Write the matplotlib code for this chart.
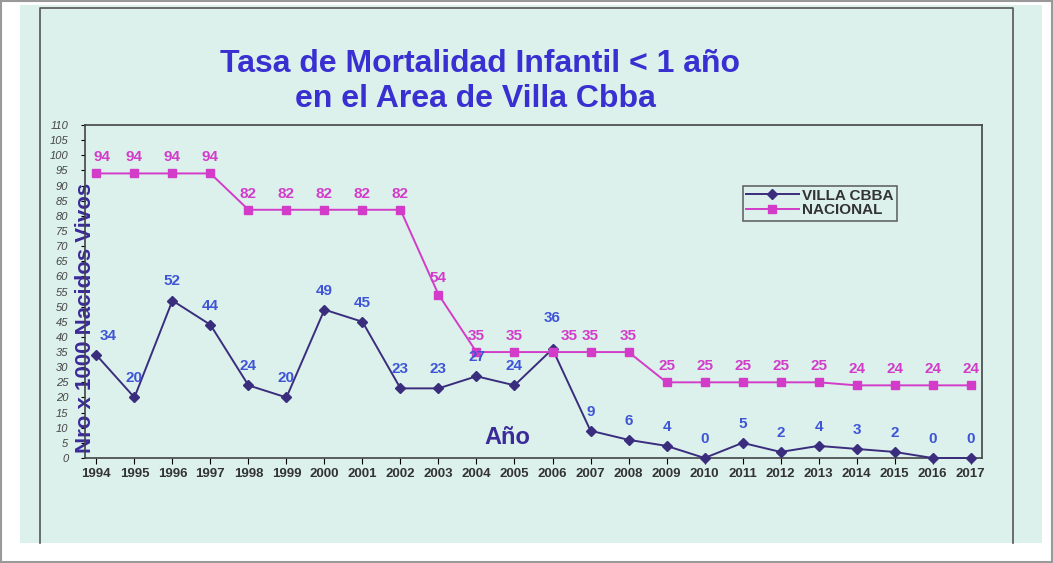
import matplotlib.pyplot as plt
from matplotlib.patches import Rectangle
from matplotlib.lines import Line2D

plt.rcParams['font.family'] = ['Liberation Sans', 'DejaVu Sans']

# data (data labels)
years = ['1994', '1995', '1996', '1997', '1998', '1999', '2000', '2001', '2002', '2003', '2004', '2005',
         '2006', '2007', '2008', '2009', '2010', '2011', '2012', '2013', '2014', '2015', '2016', '2017']
villa = [34, 20, 52, 44, 24, 20, 49, 45, 23, 23, 27, 24, 36, 9, 6, 4, 0, 5, 2, 4, 3, 2, 0, 0]
nacional = [94, 94, 94, 94, 82, 82, 82, 82, 82, 54, 35, 35, 35, 35, 35, 25, 25, 25, 25, 25, 24, 24, 24, 24]
yticks = list(range(0, 111, 5))

bg = '#dcf1ec'
c_villa = '#3a2d7e'
c_villa_lbl = '#3f55d6'
c_nac = '#d23cc8'
c_title = '#3a2fd0'

fig = plt.figure(figsize=(10.53, 5.63), dpi=100)
fig.patch.set_facecolor('white')
W, H = 1053, 563
# projected screen area and outer chart frame
fig.patches.append(Rectangle((20 / W, 1 - 543 / H), 1022 / W, 538 / H, transform=fig.transFigure,
                             facecolor=bg, edgecolor='none', zorder=-2))
fig.lines.append(Line2D([40 / W, 40 / W, 1013 / W, 1013 / W], [1 - 543 / H, 1 - 8 / H, 1 - 8 / H, 1 - 543 / H],
                        transform=fig.transFigure, color='#555555', lw=1.2, zorder=-1))
fig.patches.append(Rectangle((1 / W, 1 / H), 1 - 2 / W, 1 - 2 / H, transform=fig.transFigure,
                             facecolor='none', edgecolor='#999999', lw=1.5, zorder=-1))

ax = fig.add_axes([85 / W, 1 - 458 / H, 897 / W, 333 / H])
ax.set_facecolor(bg)
x = range(len(years))

ax.plot(x, villa, color=c_villa, marker='D', markersize=5, lw=1.4, label='VILLA CBBA', clip_on=False, zorder=3)
ax.plot(x, nacional, color=c_nac, marker='s', markersize=6, lw=1.4, label='NACIONAL', clip_on=False, zorder=3)

for i in x:
    # first labels pushed off the axis title, close pairs get pushed apart
    dx = 0.3 if i == 0 else 0
    v_up, n_dx = 4, 0
    if abs(villa[i] - nacional[i]) <= 2:
        v_up, n_dx = 8, 0.45
    ax.text(i + dx, villa[i] + v_up, str(villa[i]), color=c_villa_lbl, fontsize=11, fontweight='bold',
            ha='center', va='bottom', zorder=4)
    ax.text(i + dx / 2 + n_dx, nacional[i] + 3, str(nacional[i]), color=c_nac, fontsize=11, fontweight='bold',
            ha='center', va='bottom', zorder=4)

ax.set_xlim(-0.3, len(years) - 0.7)
ax.set_ylim(0, 110)
ax.set_xticks(list(x))
ax.set_xticklabels(years, fontsize=9.5, fontweight='bold', color='#333333')
ax.set_yticks(yticks)
ax.set_yticklabels([str(v) for v in yticks], fontsize=8, style='italic', color='#444444')
ax.tick_params(axis='y', length=3, pad=9)
ax.tick_params(axis='x', length=4)
for s in ax.spines.values():
    s.set_color('#444444')
    s.set_linewidth(1.2)

ax.set_ylabel('Nro x 1000 Nacidos Vivos', fontsize=16, fontweight='bold', color='#3b2a9a')
ax.yaxis.set_label_coords(0.012, 0.42)
ax.text(10.8, 3, 'Año', fontsize=17, fontweight='bold', color='#3b2a9a', ha='center', va='bottom')

fig.text(480 / W, 1 - 64 / H, 'Tasa de Mortalidad Infantil < 1 año', fontsize=23, fontweight='bold',
         color=c_title, ha='center', va='center')
fig.text(475 / W, 1 - 99 / H, 'en el Area de Villa Cbba', fontsize=23, fontweight='bold',
         color=c_title, ha='center', va='center')

leg = ax.legend(loc='upper left', bbox_to_anchor=(735 / W, 1 - 178 / H), bbox_transform=fig.transFigure,
                frameon=True, fancybox=False, fontsize=11, handlelength=3.5, borderpad=0.2, labelspacing=0.05,
                handletextpad=0.2)
leg.get_frame().set_edgecolor('#444444')
leg.get_frame().set_facecolor(bg)
leg.get_frame().set_linewidth(1.2)
for t in leg.get_texts():
    t.set_color('#333333')
    t.set_fontweight('bold')

fig.savefig('out.png', dpi=100, facecolor=fig.get_facecolor())
